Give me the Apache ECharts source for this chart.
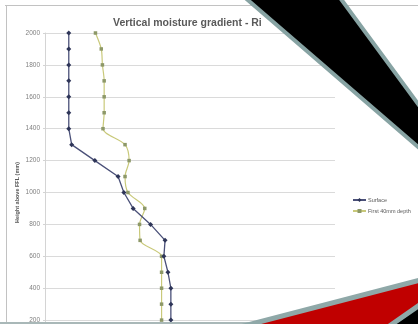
<!DOCTYPE html>
<html>
<head>
<meta charset="utf-8">
<style>
  html, body { margin: 0; padding: 0; background: #ffffff; }
  #chart { width: 418px; height: 324px; }
</style>
<script src="https://cdn.jsdelivr.net/npm/echarts@6/dist/echarts.min.js"></script>
</head>
<body>
<div id="chart"></div>
<script>
// Heights above finished floor level (mm), top to bottom
const heights = [2000, 1900, 1800, 1700, 1600, 1500, 1400, 1300, 1200, 1100, 1000, 900, 800, 700, 600, 500, 400, 300, 200];
// Moisture readings at the surface
const surface = [4.1, 4.1, 4.1, 4.1, 4.1, 4.1, 4.1, 4.6, 8.6, 12.6, 13.6, 15.2, 18.2, 20.7, 20.5, 21.2, 21.7, 21.7, 21.7];
// Moisture readings through the first 40 mm
const depth40 = [8.7, 9.7, 9.9, 10.2, 10.2, 10.2, 10.0, 13.8, 14.5, 13.8, 14.3, 17.2, 16.3, 16.4, 20.1, 20.1, 20.1, 20.1, 20.1];
const seriesNames = ['Surface', 'First 40mm depth'];
const titleText = 'Vertical moisture gradient - Ri';
const yAxisTitle = 'Height above FFL (mm)';

const chart = echarts.init(document.getElementById('chart'), null, { renderer: 'canvas' });

const pair = (xs) => xs.map((v, i) => [v, heights[i]]);

chart.setOption({
  animation: false,
  backgroundColor: '#ffffff',
  title: {
    text: titleText,
    left: 108,
    top: 13,
    textStyle: {
      fontFamily: '"Liberation Sans", sans-serif',
      fontSize: 10.5,
      fontWeight: 'bold',
      color: '#5a5a5a'
    }
  },
  legend: {
    orient: 'vertical',
    left: 347,
    top: 192,
    itemWidth: 13,
    itemHeight: 5,
    itemGap: 5,
    data: seriesNames,
    textStyle: { fontSize: 5.5, color: '#595959', fontFamily: '"Liberation Sans", sans-serif', padding: [0, 0, 0, -3] }
  },
  // plot runs below the visible edge, down to 0 mm
  grid: { left: 45, top: 33, width: 290, height: 319, containLabel: false, outerBoundsMode: 'none' },
  xAxis: {
    type: 'value',
    min: 0,
    max: 50,
    axisLine: { show: false },
    axisTick: { show: false },
    axisLabel: { show: false },
    splitLine: { show: false }
  },
  yAxis: {
    type: 'value',
    min: 0,
    max: 2000,
    interval: 200,
    name: yAxisTitle,
    nameLocation: 'middle',
    nameGap: 25,
    nameMoveOverlap: false,
    nameTextStyle: { fontSize: 5.5, fontWeight: 'bold', color: '#595959', fontFamily: '"Liberation Sans", sans-serif' },
    axisLine: { show: true, lineStyle: { color: '#d4d4d4', width: 1 } },
    axisTick: { show: true, length: 2, lineStyle: { color: '#d4d4d4' } },
    axisLabel: {
      fontSize: 6.5, color: '#7f7f7f', margin: 5, fontFamily: '"Liberation Sans", sans-serif',
      formatter: (v) => String(v)
    },
    splitLine: { show: true, lineStyle: { color: '#dadada', width: 1.2 } }
  },
  series: [
    {
      name: seriesNames[0],
      type: 'line',
      data: pair(surface),
      symbol: 'diamond',
      symbolSize: 5,
      itemStyle: { color: '#2e3558' },
      lineStyle: { color: '#4a5078', width: 1.3 },
      z: 3
    },
    {
      name: seriesNames[1],
      type: 'line',
      data: pair(depth40),
      smooth: 0.3,
      symbol: 'rect',
      symbolSize: 3.5,
      itemStyle: { color: '#8d9868' },
      lineStyle: { color: '#c9c97a', width: 1.2 },
      z: 2
    }
  ],
  graphic: [
    // outer frame edges
    { type: 'line', shape: { x1: 5, y1: 5.5, x2: 418, y2: 5.5 }, style: { stroke: '#c2c2c2', lineWidth: 1 }, z: 50 },
    { type: 'line', shape: { x1: 6.5, y1: 5, x2: 6.5, y2: 324 }, style: { stroke: '#c2c2c2', lineWidth: 1 }, z: 50 },
    // bottom edge strip
    { type: 'line', shape: { x1: 0, y1: 323, x2: 418, y2: 323 }, style: { stroke: '#a9b8b8', lineWidth: 2 }, z: 50 },
    // diagonal black band across the top right
    {
      type: 'polygon',
      shape: { points: [[242, -5], [338, -5], [424, 112], [424, 152]] },
      style: { fill: '#000000', stroke: '#87a3a3', lineWidth: 4, lineJoin: 'miter' },
      z: 100
    },
    // black corner at the bottom right
    {
      type: 'polygon',
      shape: { points: [[388, 327], [424, 302], [424, 330]] },
      style: { fill: '#000000', stroke: '#87a3a3', lineWidth: 4 },
      z: 100
    },
    // red wedge along the bottom
    {
      type: 'polygon',
      shape: { points: [[236, 328], [424, 279], [424, 302], [388, 327]] },
      style: { fill: '#c00000', stroke: '#8fa8a8', lineWidth: 5, lineJoin: 'miter' },
      z: 101
    }
  ]
});
</script>
</body>
</html>
